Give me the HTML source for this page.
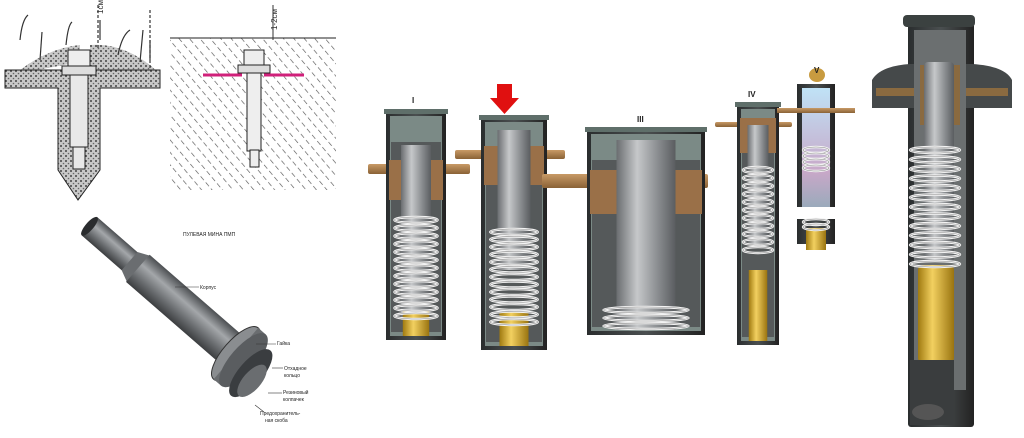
<!DOCTYPE html>
<html><head><meta charset="utf-8"><style>
html,body{margin:0;padding:0;background:#fff;width:1024px;height:438px;overflow:hidden}
svg{display:block}
text{font-family:"Liberation Sans",sans-serif}
</style></head><body>
<svg id="s" width="1024" height="438" viewBox="0 0 1024 438" xmlns="http://www.w3.org/2000/svg">
<defs>
<pattern id="hatch" width="8" height="8" patternUnits="userSpaceOnUse" patternTransform="rotate(-40)">
<rect width="8" height="8" fill="#fff"/><line x1="0" y1="0" x2="0" y2="5" stroke="#555" stroke-width="1.3"/></pattern>
<pattern id="dots" width="5" height="5" patternUnits="userSpaceOnUse">
<rect width="5" height="5" fill="#c8c8c8"/><circle cx="1" cy="1" r="1" fill="#444"/><circle cx="3.5" cy="3.5" r="0.8" fill="#666"/></pattern>
<linearGradient id="steel" x1="0" x2="1"><stop offset="0" stop-color="#6a6d70"/><stop offset=".35" stop-color="#c6c8ca"/><stop offset=".7" stop-color="#8a8d90"/><stop offset="1" stop-color="#5a5d60"/></linearGradient>
<linearGradient id="dark" x1="0" x2="1"><stop offset="0" stop-color="#2a2d2e"/><stop offset=".5" stop-color="#4a4f50"/><stop offset="1" stop-color="#222"/></linearGradient>
<linearGradient id="brass" x1="0" x2="1"><stop offset="0" stop-color="#a07a10"/><stop offset=".4" stop-color="#f2d060"/><stop offset="1" stop-color="#9a7410"/></linearGradient>
<linearGradient id="wood" x1="0" y1="0" x2="0" y2="1"><stop offset="0" stop-color="#c89a66"/><stop offset="1" stop-color="#8a6236"/></linearGradient>
<linearGradient id="mine" x1="0" y1="0" x2="0" y2="1"><stop offset="0" stop-color="#4c4f52"/><stop offset=".35" stop-color="#a4a7aa"/><stop offset=".7" stop-color="#6a6d70"/><stop offset="1" stop-color="#3c3e40"/></linearGradient>
<linearGradient id="glow" x1="0" y1="0" x2="0" y2="1"><stop offset="0" stop-color="#bfe2f6"/><stop offset=".7" stop-color="#c8a8c8"/><stop offset="1" stop-color="#9ab"/></linearGradient>
</defs>

<!-- sketch 1 -->
<path d="M10,78 Q45,48 80,45 L80,62 L10,75 Z" fill="url(#dots)"/>
<path d="M90,45 Q125,42 158,72 L90,70 Z" fill="url(#dots)"/>
<path d="M5,70 L160,70 L160,88 L100,88 L100,170 L78,200 L58,170 L58,88 L5,88 Z" fill="url(#dots)" stroke="#222" stroke-width="1"/>
<rect x="68" y="50" width="22" height="18" fill="#eee" stroke="#222"/>
<rect x="62" y="66" width="34" height="9" fill="#ddd" stroke="#222"/>
<rect x="70" y="75" width="18" height="72" fill="#e8e8e8" stroke="#222"/>
<rect x="73" y="147" width="12" height="22" fill="#e8e8e8" stroke="#222"/>
<g stroke="#333" stroke-width="1.2" fill="none">
<path d="M20,40 Q22,20 28,15"/><path d="M40,60 L42,32"/><path d="M66,45 Q68,25 72,22"/><path d="M100,40 L100,20"/><path d="M118,55 Q122,35 130,30"/><path d="M140,62 L143,30"/><path d="M150,60 L150,40"/>
<path d="M98,5 L98,48" stroke-dasharray="3 2"/><path d="M150,10 L150,68" stroke-dasharray="3 2"/></g>
<text x="103" y="14" font-size="8" fill="#333" transform="rotate(-90 103 14)">1см</text>
<!-- sketch 2 -->
<rect x="170" y="38" width="166" height="152" fill="url(#hatch)"/>
<line x1="170" y1="38" x2="336" y2="38" stroke="#222"/>
<rect x="244" y="50" width="20" height="18" fill="#eee" stroke="#222"/>
<rect x="238" y="65" width="32" height="8" fill="#ddd" stroke="#222"/>
<rect x="247" y="73" width="14" height="78" fill="#eee" stroke="#222"/>
<rect x="250" y="150" width="9" height="17" fill="#eee" stroke="#222"/>
<line x1="203" y1="75" x2="242" y2="75" stroke="#d0207a" stroke-width="3"/>
<line x1="264" y1="75" x2="304" y2="75" stroke="#d0207a" stroke-width="3"/>
<line x1="273" y1="5" x2="273" y2="40" stroke="#333"/>
<text x="277" y="30" font-size="8" fill="#333" transform="rotate(-90 277 30)">1-2см</text>

<!-- mine photo -->
<g transform="translate(88,225) rotate(41)">
<rect x="0" y="-12" width="60" height="24" fill="url(#mine)" rx="3"/>
<ellipse cx="2" cy="0" rx="4" ry="12" fill="#2a2c2e"/>
<path d="M55,-12 L68,-18 L68,18 L55,12 Z" fill="#6a6d70"/>
<rect x="66" y="-18" width="130" height="36" fill="url(#mine)"/>
<ellipse cx="196" cy="0" rx="13" ry="34" fill="#8a8d90" stroke="#333"/>
<rect x="196" y="-34" width="10" height="68" fill="#6a6d70"/>
<ellipse cx="206" cy="0" rx="13" ry="34" fill="#5a5d60"/>
<ellipse cx="220" cy="5" rx="12" ry="30" fill="#3a3d40"/>
<ellipse cx="226" cy="10" rx="9" ry="20" fill="#6a6d70"/>
</g>
<g font-size="5" fill="#222">
<text x="183" y="236">ПУЛЕВАЯ  МИНА  ПМП</text>
<text x="200" y="289">Корпус</text>
<text x="277" y="345">Гайка</text>
<text x="284" y="370">Отхадное</text><text x="284" y="377">кольцо</text>
<text x="283" y="394">Резиновый</text><text x="283" y="401">колпачек</text>
<text x="260" y="415">Предохранитель-</text><text x="265" y="422">ная скоба</text>
</g>
<g stroke="#333" stroke-width=".6"><line x1="175" y1="287" x2="199" y2="287"/><line x1="256" y1="344" x2="276" y2="344"/><line x1="272" y1="368" x2="283" y2="368"/><line x1="268" y1="393" x2="282" y2="393"/><line x1="255" y1="405" x2="264" y2="412"/></g>

<g id="dev"></g>
<g font-size="8" font-weight="bold" fill="#222">
<text x="412" y="103">I</text><text x="504" y="108">II</text><text x="637" y="122">III</text><text x="748" y="97">IV</text><text x="814" y="73">V</text></g>
<path d="M497,84 L512,84 L512,98 L519,98 L504.5,114 L490,98 L497,98 Z" fill="#e01010"/>
</svg>
<script>
var g=document.getElementById('dev'),h='';
function R(x,y,w,hh,f,extra){h+='<rect x="'+x+'" y="'+y+'" width="'+w+'" height="'+hh+'" fill="'+f+'" '+(extra||'')+'/>';}
function spring(x,y,w,n,step){for(var i=0;i<n;i++){h+='<ellipse cx="'+(x+w/2)+'" cy="'+(y+i*step)+'" rx="'+(w/2)+'" ry="3" fill="none" stroke="#f4f4f4" stroke-width="2.4"/><ellipse cx="'+(x+w/2)+'" cy="'+(y+i*step)+'" rx="'+(w/2)+'" ry="3" fill="none" stroke="#888" stroke-width=".6"/>';}}
function dev(o){
 var x=o.x,w=o.w,t=o.t,b=o.b;
 R(o.fx1,o.fy,o.fx2-o.fx1,o.fh,'url(#wood)','rx="2"');
 R(x,t,w,b-t,'url(#dark)');
 R(x+4,t+4,w-8,b-t-8,'#7b8a86');
 R(x+5,t+30,w-10,b-t-38,'#55595a');
 R(x-2,t-3,w+4,5,'#5f6f6a');
 R(x+3,o.fy-4,w-6,o.fh+30,'#9a7048');
 R(x+w*0.25,o.cy,w*0.5,o.ch,'url(#steel)');
 if(o.br) R(x+w*0.28,o.br,w*0.44,b-o.br-4,'url(#brass)');
 spring(x+w*0.14,o.sy,w*0.72,o.sn,o.ss);
}
dev({x:386,w:60,t:112,b:340,fx1:368,fx2:470,fy:164,fh:10,cy:145,ch:175,sy:220,sn:13,ss:8,br:310});
dev({x:481,w:66,t:118,b:350,fx1:455,fx2:565,fy:150,fh:9,cy:130,ch:140,sy:232,sn:13,ss:7.5,br:312});
dev({x:587,w:118,t:130,b:335,fx1:542,fx2:708,fy:174,fh:14,cy:140,ch:190,sy:310,sn:3,ss:8});
dev({x:737,w:42,t:105,b:345,fx1:715,fx2:792,fy:122,fh:5,cy:125,ch:120,sy:170,sn:11,ss:8,br:270});
h+='<rect x="797" y="84" width="38" height="160" fill="url(#dark)"/><rect x="802" y="88" width="28" height="120" fill="url(#glow)"/><rect x="777" y="108" width="78" height="5" fill="url(#wood)"/><rect x="796" y="207" width="40" height="12" fill="#fff"/><rect x="806" y="228" width="20" height="22" fill="url(#brass)"/><ellipse cx="817" cy="75" rx="8" ry="7" fill="#c89b40"/>';
spring(803,150,26,4,6);spring(803,222,26,2,5);
h+='<rect x="908" y="22" width="66" height="405" fill="url(#dark)" rx="3"/><rect x="903" y="15" width="72" height="12" fill="#3b4140" rx="4"/>';
h+='<path d="M872,80 Q880,66 910,64 L972,64 Q1005,66 1012,80 L1012,108 L872,108 Z" fill="#45494a"/><rect x="876" y="88" width="132" height="8" fill="#8a6a40"/>';
h+='<rect x="914" y="30" width="52" height="360" fill="#6b6f70"/><rect x="920" y="65" width="40" height="60" fill="#8a6a40"/><rect x="924" y="62" width="30" height="200" fill="url(#steel)" rx="4"/><rect x="918" y="265" width="36" height="98" fill="url(#brass)" rx="5"/><rect x="910" y="360" width="44" height="65" fill="#3a3d3e"/><ellipse cx="928" cy="412" rx="16" ry="8" fill="#555"/>';
spring(910,150,50,13,9.5);
g.innerHTML=h;
</script>
</body></html>
